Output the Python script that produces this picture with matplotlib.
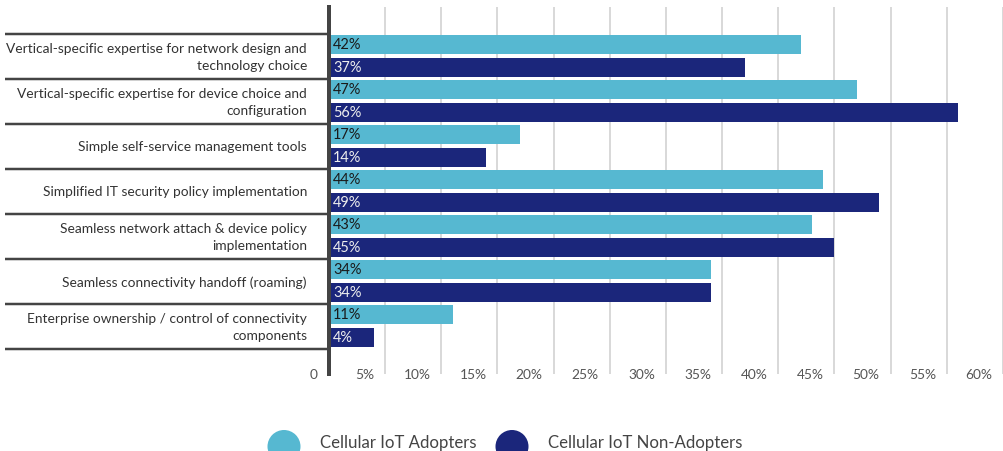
import numpy as np
import matplotlib
matplotlib.use('Agg')
import matplotlib.pyplot as plt
import matplotlib.transforms as mtransforms
from matplotlib.patches import Circle

# 数据
categories = [
    'Vertical-specific expertise for network design and\ntechnology choice',
    'Vertical-specific expertise for device choice and\nconfiguration',
    'Simple self-service management tools',
    'Simplified IT security policy implementation',
    'Seamless network attach & device policy\nimplementation',
    'Seamless connectivity handoff (roaming)',
    'Enterprise ownership / control of connectivity\ncomponents',
]
adopters = [42, 47, 17, 44, 43, 34, 11]
non_adopters = [37, 56, 14, 49, 45, 34, 4]
series_names = ['Cellular IoT Adopters', 'Cellular IoT Non-Adopters']
x_ticks = list(range(0, 65, 5))
x_tick_labels = ['0'] + [f'{v}%' for v in x_ticks[1:]]

light = '#56b8d1'
navy = '#1b267b'
dark = '#444444'

plt.rcParams['font.family'] = ['Lato', 'DejaVu Sans']

W, H = 1004, 452
fig = plt.figure(figsize=(W / 100, H / 100), dpi=100)
px = lambda v: v * 0.72  # 像素 -> 磅

# 主图区域
ax_l, ax_r, ax_t, ax_b = 329, 1003, 8, 375
ax = fig.add_axes([ax_l / W, 1 - ax_b / H, (ax_r - ax_l) / W, (ax_b - ax_t) / H])
ax.set_xlim(0, 60)
ax.set_ylim(7.556, -0.6)

y = np.arange(len(categories))
bar_h = 19 / 45
ax.barh(y + 10.5 / 45, adopters, height=bar_h, color=light, zorder=3)
ax.barh(y + 33.5 / 45, non_adopters, height=bar_h, color=navy, zorder=3)

# 条形内的数值标签
pad = mtransforms.ScaledTranslation(4 / 100, 0, fig.dpi_scale_trans)
for i in range(len(categories)):
    ax.text(0, i + 10.5 / 45, f'{adopters[i]}%', color='#1a1a1a', fontsize=px(14.5),
            va='center', ha='left', transform=ax.transData + pad, zorder=4)
    ax.text(0, i + 33.5 / 45, f'{non_adopters[i]}%', color='#eeeeee', fontsize=px(14.5),
            va='center', ha='left', transform=ax.transData + pad, zorder=4)

# 网格和坐标轴
ax.set_xticks(x_ticks)
ax.set_xticklabels(x_tick_labels)
ax.tick_params(axis='x', length=0, labelsize=px(13.8), labelcolor='#555555', pad=-4)
shift = mtransforms.ScaledTranslation(-11 / 100, 0, fig.dpi_scale_trans)
for lbl in ax.get_xticklabels():
    lbl.set_horizontalalignment('right')
    lbl.set_transform(lbl.get_transform() + shift)
ax.set_yticks([])
ax.grid(axis='x', color='#d9d9d9', linewidth=px(2), zorder=0)
for s in ['top', 'right', 'bottom']:
    ax.spines[s].set_visible(False)
ax.spines['left'].set_color(dark)
ax.spines['left'].set_linewidth(px(4))
ax.spines['left'].set_zorder(5)

# 类别标签和分隔线
width_px = ax_r - ax_l
trans = mtransforms.blended_transform_factory(ax.transAxes, ax.transData)
for i, name in enumerate(categories):
    ax.text(-22 / width_px, i + 0.5, name, transform=trans, ha='right', va='center',
            fontsize=px(13.7), color='#333333', linespacing=1.45, clip_on=False)
for k in range(len(categories) + 1):
    ax.plot([-324 / width_px, 0], [k, k], transform=trans, color=dark,
            linewidth=px(2.5), clip_on=False, solid_capstyle='butt')

# 图例
lg = fig.add_axes([0, 0, 1, 1], zorder=-1)
lg.set_xlim(0, W)
lg.set_ylim(H, 0)
lg.axis('off')
for cx, tx, col, name in [(284, 320, light, series_names[0]), (512, 548, navy, series_names[1])]:
    lg.add_patch(Circle((cx, 447.5), 16.5, color=col, linewidth=0))
    lg.text(tx, 443, name, fontsize=px(16.8), color=dark, va='center', ha='left')

fig.savefig('out.png', dpi=100)
